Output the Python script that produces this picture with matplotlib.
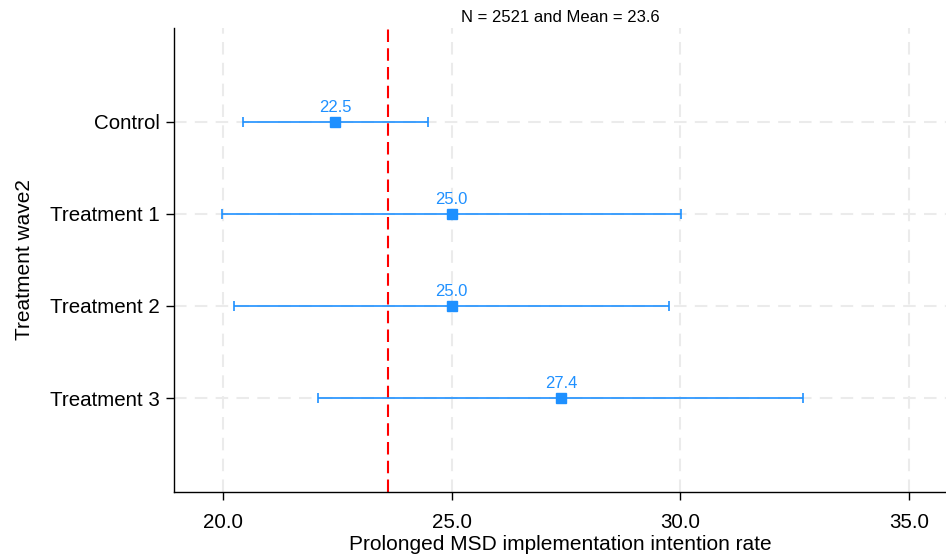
import matplotlib
matplotlib.use("Agg")
import matplotlib.pyplot as plt

plt.rcParams["font.family"] = ["Liberation Sans", "DejaVu Sans"]

# Dados
grupos = ["Control", "Treatment 1", "Treatment 2", "Treatment 3"]
medias = [22.45, 25.0, 25.0, 27.4]
inferior = [20.43, 19.98, 20.23, 22.07]
superior = [24.48, 30.02, 29.76, 32.69]
rotulos = ["22.5", "25.0", "25.0", "27.4"]
media_geral = 23.6
n_total = 2521
xticks = [20.0, 25.0, 30.0, 35.0]

AZUL = "#1E90FF"

fig = plt.figure(figsize=(9.46, 5.56), dpi=100)
ax = fig.add_axes([0.184, 0.115, 0.816, 0.835])

pos = list(range(len(grupos)))
err = [[m - lo for m, lo in zip(medias, inferior)],
       [hi - m for m, hi in zip(medias, superior)]]

ax.errorbar(medias, pos, xerr=err, fmt="s", color=AZUL, ecolor=AZUL,
            markersize=6.5, elinewidth=1.2, capsize=3.5, capthick=1.2, zorder=3)

for m, p, r in zip(medias, pos, rotulos):
    ax.annotate(r, (m, p), xytext=(0, 5), textcoords="offset points",
                ha="center", va="bottom", color=AZUL, fontsize=12)

ax.axvline(media_geral, color="red", linestyle=(0, (6, 3)), linewidth=1.5, zorder=2)

ax.set_xlim(18.93, 35.81)
ax.set_ylim(len(grupos) - 1 + 1.02, -1.02)
ax.set_xticks(xticks)
ax.set_xticklabels([f"{v:.1f}" for v in xticks])
ax.set_yticks(pos)
ax.set_yticklabels(grupos)

ax.grid(True, color="#ebebeb", linestyle=(0, (6, 4)), linewidth=1.5)
ax.set_axisbelow(True)

for lado in ["top", "right"]:
    ax.spines[lado].set_visible(False)
for lado in ["left", "bottom"]:
    ax.spines[lado].set_linewidth(1.0)

ax.tick_params(axis="both", length=6, width=1.0, labelsize=14.8)
ax.tick_params(axis="x", pad=9)
ax.tick_params(axis="y", pad=4)

ax.set_xlabel("Prolonged MSD implementation intention rate", fontsize=15, labelpad=2)
ax.set_ylabel("Treatment wave2", fontsize=15, labelpad=12)
ax.set_title(f"N = {n_total} and Mean = {media_geral}", fontsize=12, pad=4)

plt.savefig("out.png", dpi=100)
plt.close()
